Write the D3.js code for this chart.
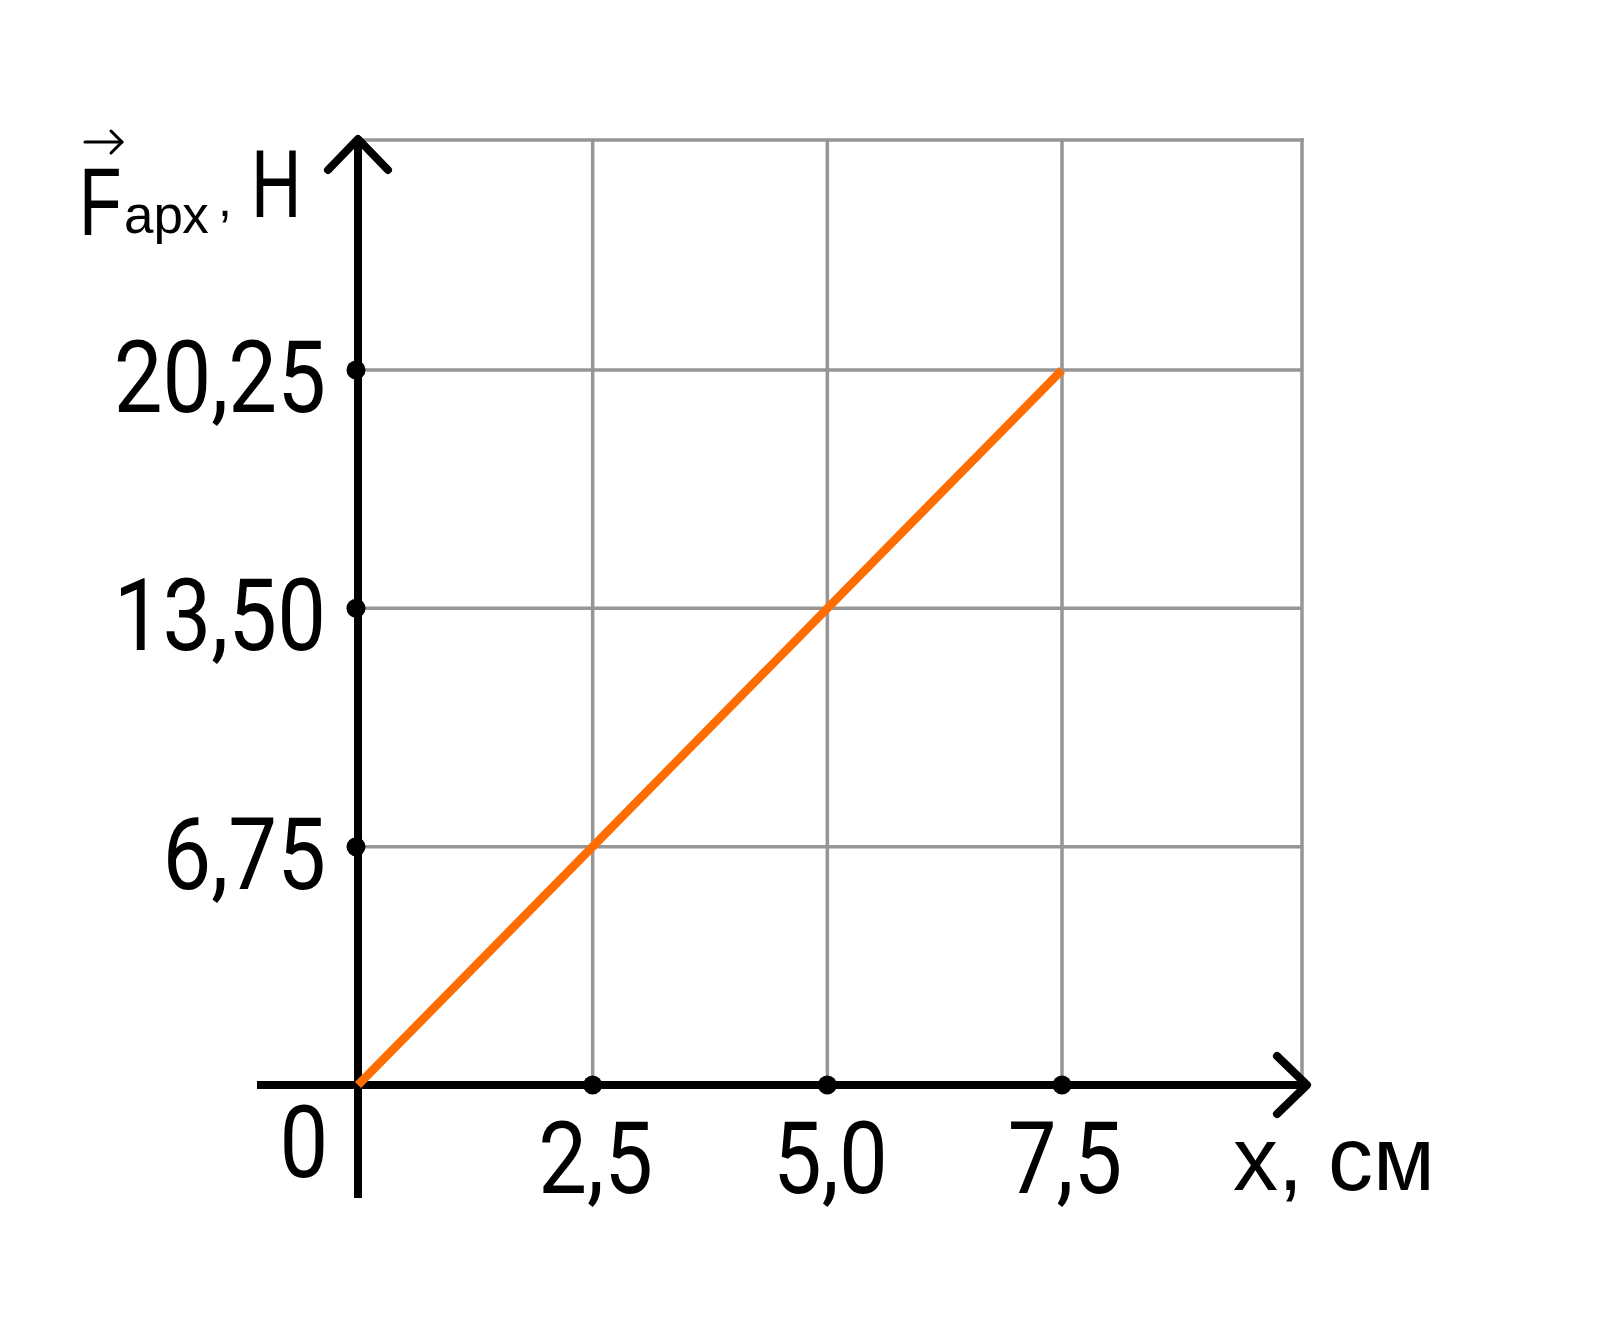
<!DOCTYPE html>
<html>
<head>
<meta charset="utf-8">
<script src="https://cdn.jsdelivr.net/npm/d3@7"></script>
<style>
  html, body { margin: 0; padding: 0; background: #ffffff; }
  svg { display: block; }
</style>
</head>
<body>
<div id="chart"></div>
<script>
// ---- data ----
const xTicks = [2.5, 5.0, 7.5];
const xTickLabels = ["2,5", "5,0", "7,5"];
const yTicks = [6.75, 13.5, 20.25];
const yTickLabels = ["6,75", "13,50", "20,25"];
const lineX = [0, 7.5];
const lineF = [0, 20.25];
const originLabel = "0";
const xTitle = "x, см";
const yTitleMain = "F";
const yTitleSub = "арх";
const yTitleUnit = "H";

// ---- layout ----
const W = 1608, H = 1340;
const plotTop = 140, plotRight = 1302;

const svg = d3.select("#chart").append("svg")
  .attr("width", W).attr("height", H)
  .style("background", "#ffffff");

const x = d3.scaleLinear().domain([0, 7.5]).range([358, 1062]);
const y = d3.scaleLinear().domain([0, 20.25]).range([1085, 370]);

const x0 = x(0), y0 = y(0);
const gridColor = "#969696";

// grid
const grid = svg.append("g").attr("stroke", gridColor).attr("stroke-width", 3.5).attr("fill", "none");
grid.selectAll("line.v").data(xTicks).join("line")
  .attr("x1", d => x(d)).attr("x2", d => x(d))
  .attr("y1", plotTop).attr("y2", y0);
grid.append("line").attr("x1", plotRight).attr("x2", plotRight).attr("y1", plotTop - 1.75).attr("y2", y0);
grid.selectAll("line.h").data(yTicks).join("line")
  .attr("x1", x0).attr("x2", plotRight)
  .attr("y1", d => y(d)).attr("y2", d => y(d));
grid.append("line").attr("x1", x0).attr("x2", plotRight + 1.75).attr("y1", plotTop).attr("y2", plotTop);

// axes
const axes = svg.append("g").attr("stroke", "#000").attr("stroke-width", 8).attr("fill", "none");
axes.append("line").attr("x1", x0).attr("x2", x0).attr("y1", 1198).attr("y2", 140);
axes.append("line").attr("x1", 257).attr("x2", 1306).attr("y1", y0).attr("y2", y0);
axes.append("polyline")
  .attr("points", [[x0 - 30, 170], [x0, 139], [x0 + 30, 170]].join(" "))
  .attr("stroke-linecap", "round").attr("stroke-linejoin", "round");
axes.append("polyline")
  .attr("points", [[1277, y0 - 29], [1307, y0], [1277, y0 + 29]].join(" "))
  .attr("stroke-linecap", "round").attr("stroke-linejoin", "round");

// data line
const pts = lineX.map((v, i) => [v, lineF[i]]);
svg.append("path")
  .datum(pts)
  .attr("d", d3.line().x(d => x(d[0])).y(d => y(d[1])))
  .attr("stroke", "#ff6d00").attr("stroke-width", 8.5).attr("fill", "none");

// tick dots
svg.append("g").selectAll("circle").data(xTicks).join("circle")
  .attr("cx", d => x(d)).attr("cy", y0).attr("r", 9.5).attr("fill", "#000");
svg.append("g").selectAll("circle").data(yTicks).join("circle")
  .attr("cx", x0 - 2).attr("cy", d => y(d)).attr("r", 9.5).attr("fill", "#000");

// tick labels (condensed)
const tickFont = "Roboto, 'DejaVu Sans', sans-serif";
const tickSize = 101;
const sx = 0.86;
svg.append("g").selectAll("g").data(yTicks).join("g")
  .attr("transform", d => `translate(326,${y(d) + 42}) scale(${sx},1)`)
  .append("text")
  .attr("text-anchor", "end")
  .attr("font-family", tickFont).attr("font-size", tickSize).attr("fill", "#000")
  .text((d, i) => yTickLabels[i]);
svg.append("g").selectAll("g").data(xTicks).join("g")
  .attr("transform", d => `translate(${x(d) + 3},${y0 + 108}) scale(${sx},1)`)
  .append("text")
  .attr("text-anchor", "middle")
  .attr("font-family", tickFont).attr("font-size", tickSize).attr("fill", "#000")
  .text((d, i) => xTickLabels[i]);
svg.append("g")
  .attr("transform", `translate(${x0 - 54},${y0 + 92}) scale(${sx},1)`)
  .append("text")
  .attr("text-anchor", "middle")
  .attr("font-family", tickFont).attr("font-size", tickSize).attr("fill", "#000")
  .text(originLabel);

// axis titles
const titleFont = "'Liberation Sans', Arial, sans-serif";
svg.append("text")
  .attr("x", 1233).attr("y", 1190)
  .attr("font-family", titleFont).attr("font-size", 90).attr("fill", "#000")
  .text(xTitle);

const yt = svg.append("g");
yt.append("g").attr("transform", "translate(79,235) scale(0.72,1)")
  .append("text").attr("font-family", titleFont).attr("font-size", 97).attr("fill", "#000")
  .text(yTitleMain);
yt.append("text").attr("x", 124).attr("y", 233)
  .attr("font-family", titleFont).attr("font-size", 53).attr("fill", "#000")
  .text(yTitleSub);
yt.append("text").attr("x", 218).attr("y", 216)
  .attr("font-family", titleFont).attr("font-size", 50).attr("fill", "#000")
  .text(",");
yt.append("g").attr("transform", "translate(251,217) scale(0.72,1)")
  .append("text").attr("font-family", titleFont).attr("font-size", 97).attr("fill", "#000")
  .text(yTitleUnit);
// vector arrow over F
const va = yt.append("g").attr("stroke", "#000").attr("stroke-width", 3).attr("fill", "none")
  .attr("stroke-linecap", "round").attr("stroke-linejoin", "round");
va.append("line").attr("x1", 85).attr("x2", 122).attr("y1", 142).attr("y2", 142);
va.append("polyline").attr("points", "111,131 122,142 111,153");
</script>
</body>
</html>
